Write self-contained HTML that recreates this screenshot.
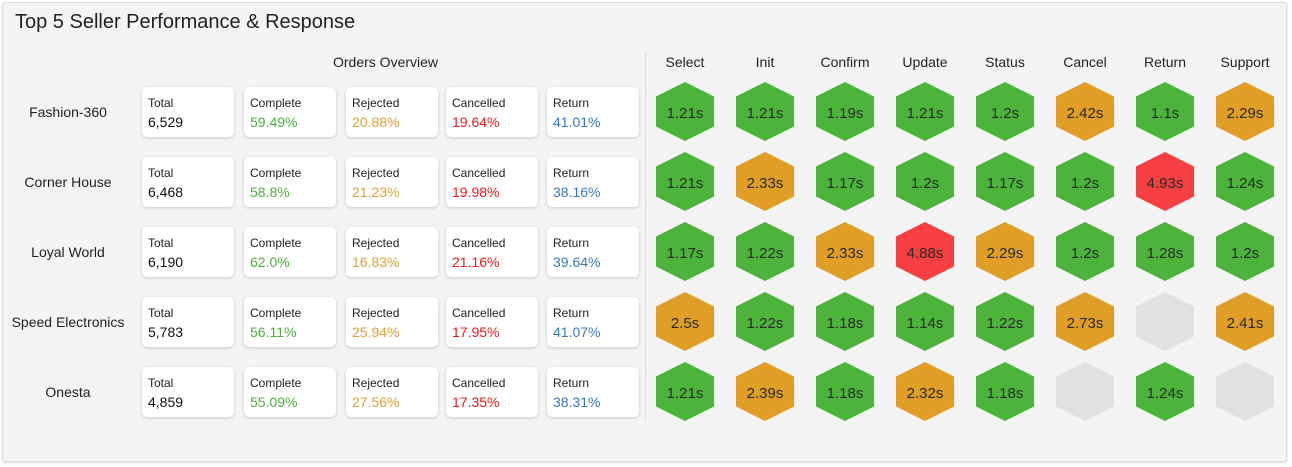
<!DOCTYPE html>
<html><head><meta charset="utf-8"><style>
body{margin:0;width:1292px;height:467px;background:#fff;font-family:"Liberation Sans",sans-serif;position:relative;overflow:hidden}
.panel{position:absolute;left:2px;top:2px;width:1283px;height:458px;background:#f4f4f4;border:1px solid #ddd;border-radius:3px;box-shadow:0 1px 2px rgba(0,0,0,.15)}
.t{position:absolute;color:#222}
.card{position:absolute;width:92px;height:50px;background:#fff;border-radius:5px;box-shadow:0 1px 3px rgba(0,0,0,.18)}
.card .l{position:absolute;left:6px;top:9px;font-size:12px;color:#222}
.card .v{position:absolute;left:6px;top:27px;font-size:14px;color:#111}
.name{position:absolute;width:136px;text-align:center;font-size:14px;color:#222}
.hdr{position:absolute;width:80px;text-align:center;font-size:14px;color:#222}
.hex{position:absolute;width:58px;height:59px;box-sizing:border-box;padding-top:4px;clip-path:polygon(50% 0,100% 24.5%,100% 75.5%,50% 100%,0 75.5%,0 24.5%);display:flex;align-items:center;justify-content:center;font-size:15px;color:#2a2a2a}
.g{background:#4cb43b}.o{background:#e09e26}.r{background:#f53f40}.e{background:#e1e1e1}
</style></head><body>
<div class="panel"></div>
<div class="t" style="left:15px;top:11px;font-size:20px;">Top 5 Seller Performance &amp; Response</div>
<div class="t" style="left:333px;top:54px;font-size:14px;">Orders Overview</div>
<div style="position:absolute;left:645px;top:52px;width:1px;height:370px;background:#ddd"></div>
<div id="c"></div>
<script>
var rows=[["Fashion-360","6,529","59.49%","20.88%","19.64%","41.01%",["g1.21s","g1.21s","g1.19s","g1.21s","g1.2s","o2.42s","g1.1s","o2.29s"]],
["Corner House","6,468","58.8%","21.23%","19.98%","38.16%",["g1.21s","o2.33s","g1.17s","g1.2s","g1.17s","g1.2s","r4.93s","g1.24s"]],
["Loyal World","6,190","62.0%","16.83%","21.16%","39.64%",["g1.17s","g1.22s","o2.33s","r4.88s","o2.29s","g1.2s","g1.28s","g1.2s"]],
["Speed Electronics","5,783","56.11%","25.94%","17.95%","41.07%",["o2.5s","g1.22s","g1.18s","g1.14s","g1.22s","o2.73s","e","o2.41s"]],
["Onesta","4,859","55.09%","27.56%","17.35%","38.31%",["g1.21s","o2.39s","g1.18s","o2.32s","g1.18s","e","g1.24s","e"]]];
var hd=["Select","Init","Confirm","Update","Status","Cancel","Return","Support"];
var labs=["Total","Complete","Rejected","Cancelled","Return"],cols=["#111","#4caf3a","#e3a033","#f01818","#3a78c4"],cx=[142,244,346,446,547];
var h="";
hd.forEach(function(s,i){h+='<div class="hdr" style="left:'+(645+i*80)+'px;top:54px">'+s+'</div>';});
rows.forEach(function(r,j){var y=87+j*70;
h+='<div class="name" style="left:0;top:'+(y+17)+'px">'+r[0]+'</div>';
for(var k=0;k<5;k++)h+='<div class="card" style="left:'+cx[k]+'px;top:'+y+'px"><div class="l">'+labs[k]+'</div><div class="v" style="color:'+cols[k]+'">'+r[k+1]+'</div></div>';
r[6].forEach(function(v,i){h+='<div class="hex '+v[0]+'" style="left:'+(656+i*80)+'px;top:'+(y-5)+'px">'+v.slice(1)+'</div>';});});
document.getElementById("c").innerHTML=h;
</script>
</body></html>
